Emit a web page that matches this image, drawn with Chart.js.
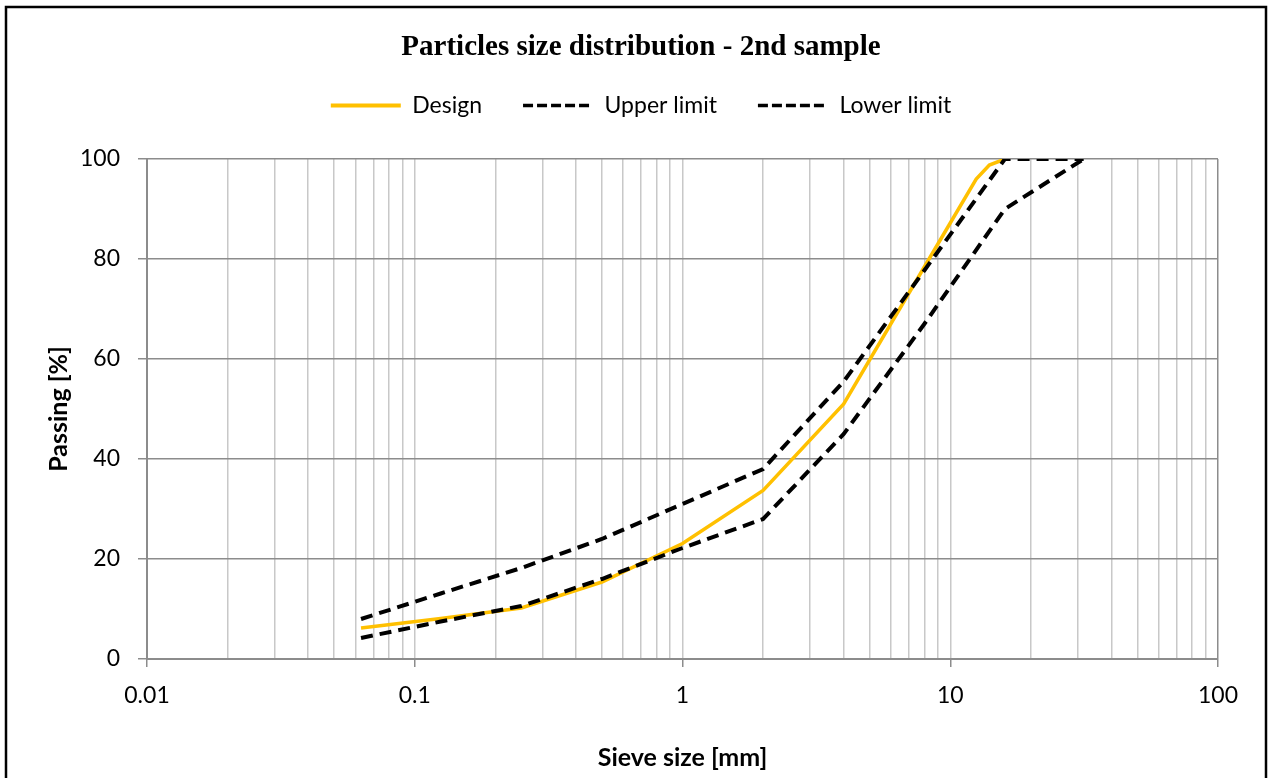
<!DOCTYPE html>
<html>
<head>
<meta charset="utf-8">
<title>Particles size distribution - 2nd sample</title>
<script src="https://cdn.jsdelivr.net/npm/chart.js@4/dist/chart.umd.min.js"></script>
<style>
  html, body { margin: 0; padding: 0; background: #fff; }
  #wrap { width: 1268px; height: 778px; position: relative; }
</style>
</head>
<body>
<div id="wrap"><canvas id="gradingChart"></canvas></div>
<script>
// sieve openings [mm] and passing [%]
const designSizes = [0.063, 0.125, 0.25, 0.5, 1, 2, 4, 8, 10, 12.5, 14, 16];
const designPassing = [6.2, 8.1, 10.2, 15.4, 23.1, 33.7, 51, 78.4, 87.2, 96, 98.8, 100];

const limitSizes = [0.063, 0.125, 0.25, 0.5, 1, 2, 4, 8, 16, 31.5];
const upperPassing = [8, 13.1, 18.2, 24, 31, 38, 55.5, 77.7, 100, 100];
const lowerPassing = [4.2, 7.5, 10.6, 16, 22.2, 28, 45, 67, 90, 100];

const xTickLabels = ['0.01', '0.1', '1', '10', '100'];
const yTickLabels = ['0', '20', '40', '60', '80', '100'];

const FONT = 'Lato, "Noto Sans", sans-serif';

function points(xs, ys) {
  return xs.map((x, i) => ({ x: x, y: ys[i] }));
}

function isDecade(v) {
  const l = Math.log10(v);
  return Math.abs(l - Math.round(l)) < 1e-9;
}

// outer frame around the whole figure
const framePlugin = {
  id: 'frame',
  afterDraw(chart) {
    const ctx = chart.ctx;
    ctx.save();
    ctx.strokeStyle = '#000';
    ctx.lineWidth = 2.5;
    ctx.strokeRect(6, 7, 1260, 800);
    ctx.restore();
  }
};

// extra room between the legend and the plot
const legendGapPlugin = {
  id: 'legendGap',
  beforeInit(chart) {
    const fit = chart.legend.fit;
    chart.legend.fit = function () {
      fit.call(chart.legend);
      this.height += 32;
    };
  }
};

new Chart(document.getElementById('gradingChart'), {
  type: 'line',
  data: {
    datasets: [
      {
        label: 'Design',
        data: points(designSizes, designPassing),
        borderColor: '#FFC000',
        backgroundColor: '#FFC000',
        borderWidth: 3.5,
        pointRadius: 0,
        order: 3
      },
      {
        label: 'Upper limit',
        data: points(limitSizes, upperPassing),
        borderColor: '#000',
        backgroundColor: '#000',
        borderWidth: 4,
        borderDash: [12, 7],
        pointRadius: 0,
        order: 2
      },
      {
        label: 'Lower limit',
        data: points(limitSizes, lowerPassing),
        borderColor: '#000',
        backgroundColor: '#000',
        borderWidth: 4,
        borderDash: [12, 7],
        pointRadius: 0,
        order: 1
      }
    ]
  },
  options: {
    responsive: true,
    maintainAspectRatio: false,
    animation: false,
    layout: { padding: { left: 32, right: 18, top: 0, bottom: 0 } },
    plugins: {
      tooltip: { enabled: false },
      title: {
        display: true,
        text: 'Particles size distribution - 2nd sample',
        color: '#000',
        font: { family: '"Liberation Serif", "Times New Roman", serif', size: 29, weight: 'bold', lineHeight: 1.0 },
        padding: { top: 33, bottom: -9 }
      },
      legend: {
        display: true,
        position: 'top',
        labels: {
          color: '#000',
          font: { family: FONT, size: 23 },
          usePointStyle: true,
          pointStyle: 'line',
          pointStyleWidth: 70,
          padding: 41,
          sort: (a, b) => a.datasetIndex - b.datasetIndex,
          generateLabels(chart) {
            const items = Chart.defaults.plugins.legend.labels.generateLabels(chart);
            items.forEach(it => {
              const ds = chart.data.datasets[it.datasetIndex];
              it.pointStyle = 'line';
              it.strokeStyle = ds.borderColor;
              it.lineWidth = ds.borderDash ? 3.5 : 4;
              it.lineDash = ds.borderDash ? [10, 4] : [];
            });
            return items;
          }
        }
      }
    },
    scales: {
      x: {
        type: 'logarithmic',
        min: 0.01,
        max: 100,
        afterFit(scale) {
          scale.height = 119;
          scale.paddingRight = 50;
        },
        afterBuildTicks(scale) {
          const ticks = [];
          for (let d = -2; d < 2; d++) {
            for (let m = 1; m < 10; m++) {
              ticks.push({ value: m * Math.pow(10, d) });
            }
          }
          ticks.push({ value: 100 });
          scale.ticks = ticks;
        },
        ticks: {
          autoSkip: false,
          maxRotation: 0,
          color: '#000',
          font: { family: FONT, size: 23 },
          padding: 15,
          callback(value) {
            if (!isDecade(value)) return '';
            return xTickLabels[Math.round(Math.log10(value)) + 2];
          }
        },
        grid: {
          color: ctx => (ctx.tick && ctx.tick.value === 100) ? '#8c8c8c' : '#c8c8c8',
          lineWidth: 1.5,
          tickLength: 8,
          tickColor: ctx => (ctx.tick && isDecade(ctx.tick.value)) ? '#8c8c8c' : 'rgba(0,0,0,0)'
        },
        border: { color: '#8c8c8c', width: 2 },
        title: {
          display: true,
          text: 'Sieve size [mm]',
          color: '#000',
          font: { family: FONT, size: 25, weight: 'bold', lineHeight: 1.2 },
          padding: { top: 0, bottom: 5 }
        }
      },
      y: {
        type: 'linear',
        min: 0,
        max: 100,
        afterFit(scale) { scale.width = 115; },
        ticks: {
          stepSize: 20,
          color: '#000',
          font: { family: FONT, size: 23 },
          padding: 18,
          callback(value) { return yTickLabels[Math.round(value / 20)]; }
        },
        grid: {
          color: '#8c8c8c',
          lineWidth: 1.5,
          tickLength: 9,
          tickColor: '#8c8c8c'
        },
        border: { color: '#8c8c8c', width: 2 },
        title: {
          display: true,
          text: 'Passing [%]',
          color: '#000',
          font: { family: FONT, size: 25, weight: 'bold', lineHeight: 1.2 },
          padding: { top: 12, bottom: 0 }
        }
      }
    }
  },
  plugins: [framePlugin, legendGapPlugin]
});
</script>
</body>
</html>
